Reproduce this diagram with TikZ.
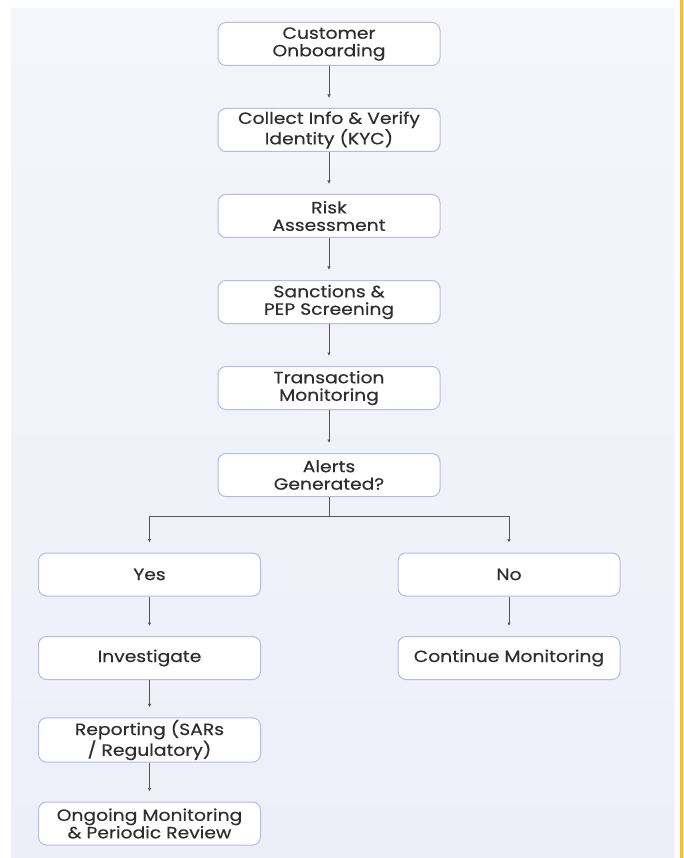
\documentclass[tikz,border=0pt]{standalone}
\usepackage{fontspec}
\setmainfont{Poppins}[FakeStretch=1.15, FakeBold=0.4]
\usetikzlibrary{arrows.meta}
\definecolor{panel}{HTML}{F5F6FB}
\definecolor{panelb}{HTML}{EDEEF8}
\definecolor{boxline}{HTML}{B9B9E6}
\definecolor{conn}{HTML}{555555}
\definecolor{edge}{HTML}{FFC000}
\definecolor{txt}{HTML}{2E2E2E}
\begin{document}
\begin{tikzpicture}[x=1pt,y=-1pt,
  stepbox/.style={draw=boxline, line width=1pt, fill=white, rounded corners=8pt,
    minimum width=222pt, minimum height=43pt, align=center, inner sep=2pt,
    font=\fontsize{16.3}{17.5}\selectfont, text=txt},
  conn/.style={draw=conn, line width=0.9pt, -{Latex[length=3.5pt,width=3.5pt]}, shorten >=10pt}]
\useasboundingbox (0,0) rectangle (683,858);
\fill[white] (0,0) rectangle (683,858);
\shade[top color=panel, bottom color=panelb] (11,9) rectangle (674,858);
\fill[edge] (679.5,0) rectangle (683,858);

\node[stepbox] (onb) at (329,44) {Customer\\Onboarding};
\node[stepbox] (kyc) at (329,130) {Collect Info \& Verify\\Identity (KYC)};
\node[stepbox] (risk) at (329,216) {Risk\\Assessment};
\node[stepbox] (sanc) at (329,302) {Sanctions \&\\PEP Screening};
\node[stepbox] (tm) at (329,388) {Transaction\\Monitoring};
\node[stepbox] (alert) at (329,475) {Alerts\\Generated?};
\node[stepbox] (yes) at (149.5,574.5) {Yes};
\node[stepbox] (no) at (509,574.5) {No};
\node[stepbox] (inv) at (149.5,658) {Investigate};
\node[stepbox] (cont) at (509,658) {Continue Monitoring};
\node[stepbox] (rep) at (149.5,740) {Reporting (SARs\\/ Regulatory)};
\node[stepbox] (ong) at (149.5,823.5) {Ongoing Monitoring\\\& Periodic Review};

\coordinate (split) at (329,516);

\draw[conn] (onb) -- (kyc);
\draw[conn] (kyc) -- (risk);
\draw[conn] (risk) -- (sanc);
\draw[conn] (sanc) -- (tm);
\draw[conn] (tm) -- (alert);
\draw[draw=conn, line width=0.9pt] (alert) -- (split);
\draw[conn] (split) -| (yes);
\draw[conn] (split) -| (no);
\draw[conn] (yes) -- (inv);
\draw[conn] (no) -- (cont);
\draw[conn] (inv) -- (rep);
\draw[conn] (rep) -- (ong);
\end{tikzpicture}
\end{document}
